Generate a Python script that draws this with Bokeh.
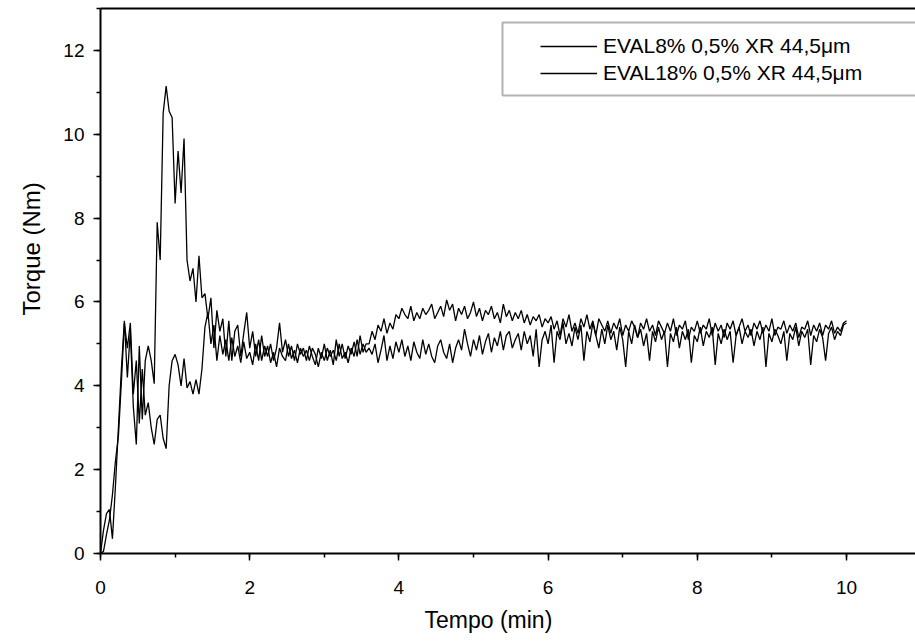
from bokeh.plotting import figure
from bokeh.models import (Legend, LegendItem, BoxAnnotation, LinearAxis, FixedTicker,
                          SingleIntervalTicker, Range1d, ColumnDataSource, Title)
from bokeh.embed import file_html
from bokeh.resources import INLINE

# sampling grid of the torque rheometer (every 0.04 min, 0 to 10 min)
tempo = [round(i * 0.04, 2) for i in range(251)]

eval8 = [
    0.0, 0.55, 0.95, 1.05, 0.35, 1.6, 3.0, 4.4, 5.55, 4.2,
    5.3, 3.5, 2.6, 4.95, 3.2, 4.6, 4.95, 4.6, 4.05, 7.9,
    7.0, 10.5, 11.15, 10.55, 10.4, 8.35, 9.6, 8.6, 9.9, 7.0,
    6.5, 6.8, 6.0, 7.1, 6.1, 6.2, 5.6, 6.1, 4.9, 5.8,
    5.3, 5.6, 4.7, 5.55, 4.6, 5.3, 5.45, 4.7, 5.25, 5.75,
    4.9, 5.3, 4.7, 5.1, 4.6, 4.95, 4.7, 5.0, 4.6, 4.9,
    5.5, 4.8, 5.1, 4.7, 4.95, 4.6, 5.0, 4.75, 4.9, 4.6,
    4.95, 4.7, 4.5, 4.9, 4.65, 5.0, 4.6, 4.85, 4.5, 5.1,
    4.7, 5.0, 4.65, 4.95, 4.75, 5.05, 4.7, 5.2, 4.8, 5.0,
    5.0, 5.3, 5.1, 5.45, 5.3, 5.6, 5.25, 5.5, 5.35, 5.7,
    5.6, 5.85, 5.7, 5.6, 5.9, 5.55, 5.75, 5.6, 5.85, 5.7,
    5.8, 5.95, 5.6, 5.75, 5.9, 5.65, 6.05, 5.8, 5.95, 5.55,
    5.85, 5.7, 5.9, 5.6, 5.75, 6.0, 5.65, 5.85, 5.55, 5.8,
    5.7, 5.9, 5.6, 5.75, 5.5, 5.95, 5.65, 5.8, 5.55, 5.75,
    5.6, 5.8, 5.5, 5.7, 5.45, 5.65, 5.55, 5.7, 5.4, 5.6,
    5.5, 5.65, 5.35, 5.55, 5.2, 5.6, 5.4, 5.7, 5.3, 5.5,
    5.25, 5.6, 5.4, 5.7, 5.35, 5.55, 5.2, 5.6, 5.45, 5.3,
    5.55, 5.25, 5.5, 5.35, 5.6, 5.2, 5.45, 5.3, 5.55, 5.4,
    5.15, 5.5, 5.35, 5.6, 5.3, 5.45, 5.2, 5.55, 5.4, 5.25,
    5.5, 5.3, 5.6, 5.2, 5.45, 5.35, 5.55, 5.1, 5.4, 5.3,
    5.55, 5.25, 5.45, 5.35, 5.6, 5.2, 5.5, 5.3, 5.45, 5.15,
    5.5, 5.35, 5.55, 5.2, 5.4, 5.6, 5.3, 5.45, 5.2, 5.5,
    5.35, 5.55, 5.25, 5.45, 5.3, 5.6, 5.2, 5.4, 5.35, 5.55,
    5.25, 5.45, 5.3, 5.5, 5.15, 5.4, 5.35, 5.55, 5.2, 5.45,
    5.3, 5.5, 5.2, 5.45, 5.35, 5.55, 5.25, 5.4, 5.3, 5.5,
    5.55,
]

eval18 = [
    0.0, 0.05, 0.45, 0.8, 1.4, 2.2, 2.8, 4.1, 5.5, 4.9,
    5.5, 3.8, 4.6, 3.1, 4.4, 3.3, 3.6, 3.0, 2.6, 3.2,
    3.3, 2.75, 2.5, 4.0, 4.6, 4.75, 4.5, 4.0, 4.65, 3.95,
    4.1, 3.8, 4.15, 3.8, 4.4, 5.4, 5.75, 5.0, 5.45, 4.6,
    5.2, 4.75, 5.1, 4.6, 5.15, 4.7, 4.95, 4.55, 5.05, 4.65,
    4.8, 4.5, 5.0, 4.6, 5.2, 4.7, 4.95, 4.55, 4.8, 4.45,
    4.9, 4.7, 4.6, 5.0, 4.65, 4.85, 4.55, 4.9, 4.7, 4.85,
    4.6, 4.9, 4.75, 4.45, 4.8, 4.6, 4.9, 4.7, 4.85, 4.6,
    5.0, 4.65, 4.8, 4.55, 4.9, 4.7, 5.1, 4.75, 5.0, 4.8,
    4.9, 4.75, 5.0, 4.55, 4.85, 5.2, 4.6, 4.95, 4.65, 5.05,
    4.8, 5.1, 4.7, 4.95, 4.6, 5.05, 4.8, 4.65, 5.1, 4.75,
    5.0, 4.7, 4.55, 4.95, 5.1, 4.8, 4.65, 5.0, 4.55, 4.9,
    5.1, 4.85, 5.35, 5.0, 4.7, 5.1, 4.85, 5.2, 4.75, 5.05,
    5.25, 4.8, 5.15, 4.95, 5.3, 4.85, 5.2, 5.3, 4.9, 5.1,
    5.25, 4.85, 5.3, 5.0, 5.2, 4.7, 5.35, 4.45, 5.1, 5.3,
    5.0, 5.45, 4.55, 5.3, 5.1, 5.5, 5.0, 5.25, 4.95, 5.4,
    5.1, 5.45, 4.6, 5.3, 5.05, 5.5, 5.2, 4.9, 5.35, 5.0,
    5.45, 5.1, 5.3, 4.85, 5.4, 5.1, 4.45, 5.3, 5.0, 5.45,
    5.15, 5.35, 4.95, 5.25, 4.6, 5.3, 5.05, 5.4, 5.1, 5.3,
    4.45, 5.25, 5.05, 5.4, 4.9, 5.3, 5.1, 5.35, 4.55, 5.2,
    5.05, 5.4, 4.95, 5.3, 5.15, 5.4, 4.5, 5.25, 5.0, 5.35,
    5.1, 5.3, 4.55, 5.2, 5.4, 5.0, 5.3, 5.15, 5.35, 4.95,
    5.3, 5.1, 5.4, 4.45, 5.25, 5.05, 5.35, 5.2, 5.0, 5.3,
    4.6, 5.25, 5.1, 5.4, 4.95, 5.3, 5.15, 5.35, 4.5, 5.2,
    5.05, 5.35, 5.15, 4.6, 5.25, 5.4, 5.1, 5.3, 5.2, 5.45,
    5.5,
]

labels = ["EVAL8% 0,5% XR 44,5\u03bcm", "EVAL18% 0,5% XR 44,5\u03bcm"]
x_title = "Tempo (min)"
y_title = "Torque (Nm)"
x_ticks_interval = 2
y_ticks_interval = 2

FONT = "Liberation Sans"

p = figure(width=915, height=642,
           x_range=Range1d(0, 10.925), y_range=Range1d(0, 13),
           output_backend="svg", toolbar_location=None,
           min_border_left=100, min_border_right=0,
           min_border_top=8, min_border_bottom=89)
p.grid.grid_line_color = None
p.outline_line_color = None
p.background_fill_color = "white"
p.border_fill_color = "white"

src = ColumnDataSource(dict(t=tempo, a=eval8, b=eval18))
r1 = p.line("t", "a", source=src, line_color="black", line_width=1.3)
r2 = p.line("t", "b", source=src, line_color="black", line_width=1.3)

p.xaxis.ticker = SingleIntervalTicker(interval=x_ticks_interval, num_minor_ticks=2)
p.yaxis.ticker = SingleIntervalTicker(interval=y_ticks_interval, num_minor_ticks=2)

for ax in (p.xaxis[0], p.yaxis[0]):
    ax.axis_line_width = 2
    ax.axis_line_color = "black"
    ax.major_tick_line_width = 1.5
    ax.minor_tick_line_width = 1.5
    ax.major_tick_line_color = "black"
    ax.minor_tick_line_color = "black"
    ax.major_tick_out = 7
    ax.major_tick_in = 0
    ax.minor_tick_out = 4
    ax.minor_tick_in = 0
    ax.major_label_text_font = FONT
    ax.major_label_text_font_size = "19px"
    ax.major_label_text_color = "black"

p.xaxis[0].major_label_standoff = 20
p.yaxis[0].major_label_standoff = 9

top = LinearAxis(ticker=FixedTicker(ticks=[]), axis_line_width=2, axis_line_color="black",
                 major_tick_out=0, major_tick_in=0, minor_tick_out=0, minor_tick_in=0,
                 major_label_standoff=0)
p.add_layout(top, "above")

# axis titles as side-panel titles, placed like the original
xt = Title(text=x_title, align="left", offset=324, standoff=17,
           text_font=FONT, text_font_size="23px", text_font_style="normal",
           text_color="black")
yt = Title(text=y_title, align="left", offset=238, standoff=31,
           text_font=FONT, text_font_size="24px", text_font_style="normal",
           text_color="black")
p.add_layout(xt, "below")
p.add_layout(yt, "left")

box = BoxAnnotation(left=402, right=830, top=531, bottom=458,
                    left_units="screen", right_units="screen",
                    top_units="screen", bottom_units="screen",
                    fill_color="white", fill_alpha=1.0,
                    line_color="black", line_width=2)
p.add_layout(box)

legend = Legend(items=[LegendItem(label=labels[0], renderers=[r1]),
                       LegendItem(label=labels[1], renderers=[r2])],
                location=(440, 467), padding=0, margin=0, spacing=1,
                label_height=26, glyph_height=20, glyph_width=57,
                label_standoff=6, border_line_color=None,
                background_fill_alpha=0,
                label_text_font=FONT, label_text_font_size="21px",
                label_text_color="black")
p.add_layout(legend)

open("out.html", "w").write(file_html(p, INLINE))
